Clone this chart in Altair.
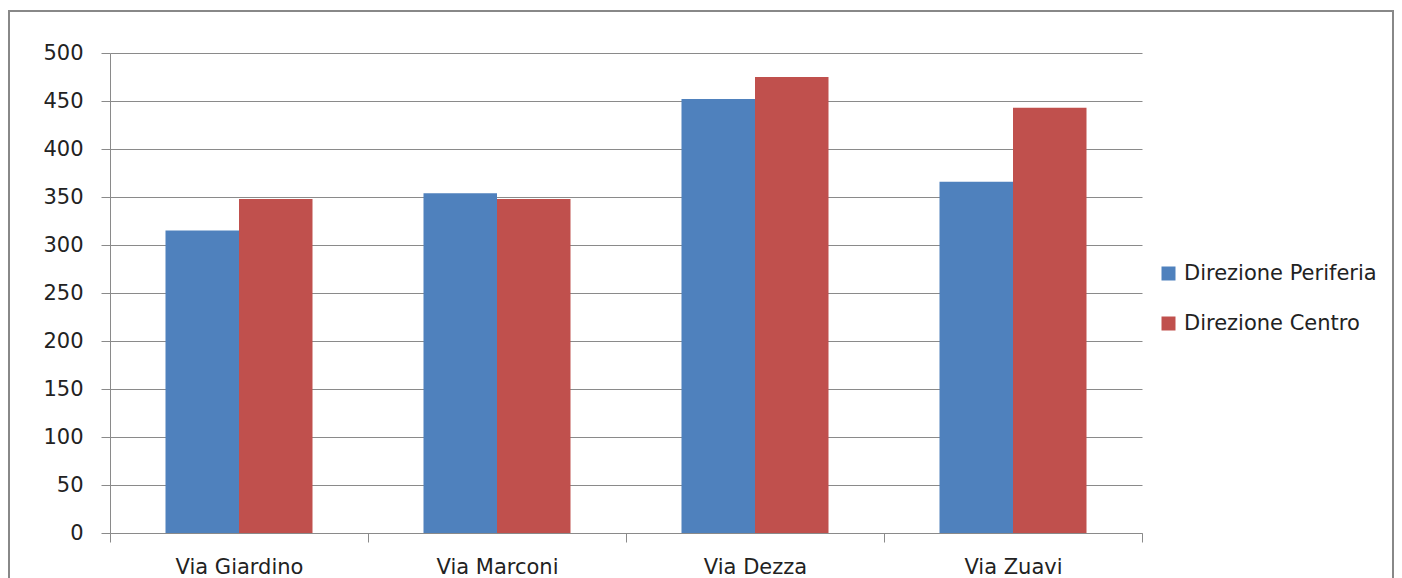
import altair as alt
import pandas as pd

categories = ["Via Giardino", "Via Marconi", "Via Dezza", "Via Zuavi"]
series = ["Direzione Periferia", "Direzione Centro"]
periferia = [315, 354, 452, 366]
centro = [348, 348, 475, 443]
y_ticks = [0, 50, 100, 150, 200, 250, 300, 350, 400, 450, 500]

rows = []
for c, p, ce in zip(categories, periferia, centro):
    rows.append({"via": c, "serie": series[0], "valore": p})
    rows.append({"via": c, "serie": series[1], "valore": ce})
df = pd.DataFrame(rows)

FONT = "DejaVu Sans"
TXT = "#222222"
GRID = "#8a8a8a"
W, H = 1032, 480

bars = alt.Chart(df).mark_bar().encode(
    x=alt.X("via:N", sort=categories, title=None,
            scale=alt.Scale(paddingInner=0, paddingOuter=0),
            axis=alt.Axis(labelAngle=0, tickBand="extent", tickSize=9, tickColor=GRID,
                          domainColor=GRID, labelFontSize=21, labelColor=TXT,
                          labelFont=FONT, labelPadding=14, grid=False)),
    xOffset=alt.XOffset("serie:N", sort=series,
                        scale=alt.Scale(paddingInner=0, paddingOuter=0.755)),
    y=alt.Y("valore:Q", title=None,
            scale=alt.Scale(domain=[0, 500], nice=False),
            axis=alt.Axis(values=y_ticks, tickSize=9, tickColor=GRID, domainColor=GRID,
                          gridColor=GRID, gridWidth=1, labelFontSize=21, labelColor=TXT,
                          labelFont=FONT, labelPadding=18)),
    color=alt.Color("serie:N", sort=series,
                    scale=alt.Scale(domain=series, range=["#4F81BD", "#C0504D"]),
                    legend=alt.Legend(title=None, orient="none", legendX=1048, legendY=210,
                                      symbolType="square", symbolSize=196, symbolStrokeWidth=0,
                                      labelFontSize=21, labelFont=FONT, labelColor=TXT,
                                      labelLimit=400, rowPadding=28, labelOffset=5)),
)

border = alt.Chart(pd.DataFrame({"a": [0]})).mark_rect(
    fill=None, stroke="#888888", strokeWidth=2, clip=False
).encode(
    x=alt.value(-101), x2=alt.value(W + 251), y=alt.value(-42), y2=alt.value(H + 80)
)

chart = alt.layer(border, bars).properties(
    width=W, height=H,
    background="white",
    autosize=alt.AutoSizeParams(type="none"),
    padding={"left": 102, "top": 45, "right": 252, "bottom": 45},
).configure_view(stroke="transparent", strokeWidth=0)

chart.save("out.html", embed_options={"renderer": "svg", "actions": False})
